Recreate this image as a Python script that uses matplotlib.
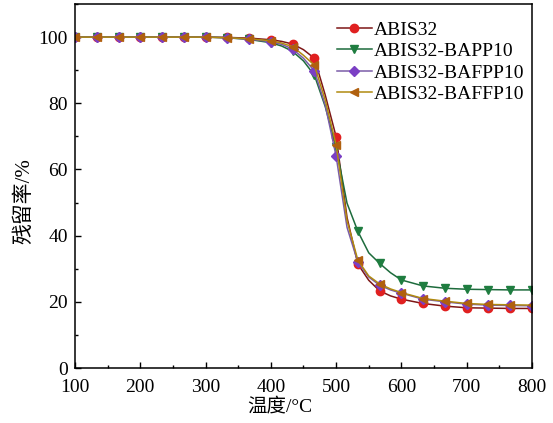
import matplotlib
matplotlib.use('Agg')
import matplotlib.pyplot as plt
from matplotlib.ticker import MultipleLocator

plt.rcParams['font.family'] = ['Liberation Serif', 'Noto Sans CJK SC']
plt.rcParams['mathtext.fontset'] = 'stix'

# temperature (°C); markers are drawn every 33.3 °C, extra points refine the steep part
temp = [100, 133.3, 166.7, 200, 233.3, 266.7, 300, 333.3, 366.7, 400, 416.7,
        433.3, 450, 466.7, 483.3, 500, 516.7, 533.3, 550, 566.7, 583.3, 600,
        633.3, 666.7, 700, 733.3, 766.7, 800]
marker_idx = [0, 1, 2, 3, 4, 5, 6, 7, 8, 9, 11, 13, 15, 17, 19, 21, 22, 23, 24, 25, 26, 27]

abis32 = [100, 100, 100, 100, 100, 100, 100, 99.9, 99.7, 99.2, 98.7,
          97.9, 96.2, 93.6, 82.5, 69.9, 45.5, 31.4, 26.5, 23.3, 21.8, 20.8,
          19.5, 18.7, 18.2, 18.1, 18.0, 18.0]
bapp10 = [100, 100, 100, 100, 100, 100, 100, 99.8, 99.3, 98.3, 97.3,
          95.7, 92.8, 88.5, 79.0, 66.8, 49.8, 41.3, 34.8, 31.6, 28.8, 26.6,
          24.8, 24.1, 23.8, 23.7, 23.6, 23.6]
bafpp10 = [100, 100, 100, 100, 100, 100, 100, 99.8, 99.4, 98.6, 97.8,
           96.4, 93.6, 89.8, 79.5, 64.0, 42.5, 32.0, 27.5, 25.0, 23.6, 22.6,
           20.8, 20.0, 19.3, 19.0, 18.9, 18.8]
baffp10 = [100, 100, 100, 100, 100, 100, 100, 99.8, 99.5, 98.9, 98.2,
           97.1, 94.5, 91.5, 81.0, 67.4, 44.5, 32.6, 27.8, 25.4, 23.9, 22.8,
           21.0, 20.2, 19.5, 19.2, 19.1, 19.0]

series = [
    ('ABIS32', abis32, '#7d1616', '#e02020', 'o'),
    ('ABIS32-BAPP10', bapp10, '#1d6b3c', '#1f7d40', 'v'),
    ('ABIS32-BAFPP10', bafpp10, '#7a5ca8', '#7b3fc4', 'D'),
    ('ABIS32-BAFFP10', baffp10, '#b08a10', '#b0600f', '<'),
]

fig = plt.figure(figsize=(5.53, 4.23), dpi=100)
ax = fig.add_axes([0.1356, 0.130, 0.8264, 0.8605])

for label, vals, lc, mc, mk in series:
    ax.plot(temp, vals, color=lc, lw=1.1, marker=mk, markevery=marker_idx,
            ms=6 if mk != 'D' else 5, mfc=mc, mec=mc, label=label)

ax.set_xlim(100, 800)
ax.set_ylim(0, 110)
ax.xaxis.set_major_locator(MultipleLocator(100))
ax.xaxis.set_minor_locator(MultipleLocator(50))
ax.yaxis.set_major_locator(MultipleLocator(20))
ax.yaxis.set_minor_locator(MultipleLocator(10))
ax.tick_params(which='both', direction='in', top=False, right=False, labelsize=14)
ax.tick_params(which='major', length=4, width=1)
ax.tick_params(axis='x', which='major', pad=8)
ax.tick_params(axis='y', which='major', pad=5)
ax.tick_params(which='minor', length=2.5, width=1)
for sp in ax.spines.values():
    sp.set_linewidth(1.1)

ax.set_xlabel('温度/°C', fontsize=14)
ax.set_ylabel('残留率/%', fontsize=15)
ax.xaxis.set_label_coords(0.449, -0.08)
ax.yaxis.set_label_coords(-0.088, 0.46)

ax.legend(loc='upper right', frameon=False, fontsize=14, handlelength=1.8,
          handletextpad=0.1, labelspacing=0.2, borderaxespad=0,
          bbox_to_anchor=(1.0, 0.975))

fig.savefig('out.png', dpi=100)
